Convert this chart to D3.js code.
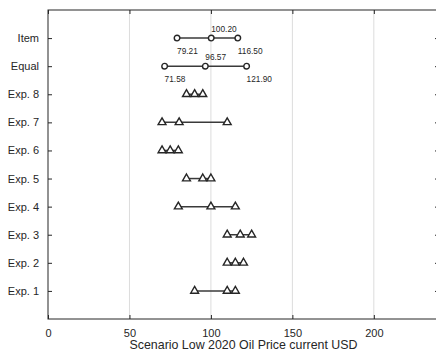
<!DOCTYPE html>
<html>
<head>
<meta charset="utf-8">
<script src="https://cdn.jsdelivr.net/npm/d3@7"></script>
<style>
  body { margin: 0; background: #fff; }
  svg { display: block; font-family: "Liberation Sans", Arial, sans-serif; }
</style>
</head>
<body>
<div id="chart"></div>
<script>
// rows from top to bottom
const rowLabels = ["Item", "Equal", "Exp. 8", "Exp. 7", "Exp. 6", "Exp. 5", "Exp. 4", "Exp. 3", "Exp. 2", "Exp. 1"];
const rowValues = [
    [79.21, 100.20, 116.50],
    [71.58, 96.57, 121.90],
    [85, 90, 95],
    [70, 80.5, 110],
    [70, 75, 80],
    [85, 95, 100],
    [80, 100, 115],
    [110, 118, 125],
    [110, 115, 120],
    [90, 110, 115]
];
const circleRows = ["Item", "Equal"];
const xTicks = [0, 50, 100, 150, 200];
const xTitle = "Scenario Low 2020 Oil Price current USD";

const width = 436, height = 356;
const margin = {top: 10, right: -3, bottom: 37, left: 48};

const svg = d3.select("#chart").append("svg")
    .attr("width", width)
    .attr("height", height);

const x = d3.scaleLinear()
    .domain([0, 240])
    .range([margin.left, width - margin.right]);

// one slot per row, plus a blank slot above and below
const y = d3.scaleLinear()
    .domain([0, rowLabels.length + 1])
    .range([height - margin.bottom, margin.top]);
const rowY = (i) => y(rowLabels.length - i);

// vertical grid
svg.append("g")
    .selectAll("line")
    .data(xTicks.filter(d => d > 0))
    .join("line")
    .attr("x1", d => x(d)).attr("x2", d => x(d))
    .attr("y1", y(0)).attr("y2", y(rowLabels.length + 1))
    .attr("stroke", "#dcdcdc")
    .attr("stroke-width", 1);

// frame
svg.append("rect")
    .attr("x", x(0))
    .attr("y", y(rowLabels.length + 1))
    .attr("width", x(240) - x(0))
    .attr("height", y(0) - y(rowLabels.length + 1))
    .attr("fill", "none")
    .attr("stroke", "#262626")
    .attr("stroke-width", 1);

// x axes (bottom + top, ticks inward)
const xb = svg.append("g")
    .attr("transform", `translate(0,${y(0)})`)
    .call(d3.axisBottom(x).tickValues(xTicks).tickSizeInner(-4).tickSizeOuter(0).tickPadding(10));
const xt = svg.append("g")
    .attr("transform", `translate(0,${y(rowLabels.length + 1)})`)
    .call(d3.axisTop(x).tickValues(xTicks).tickSizeInner(-4).tickSizeOuter(0).tickFormat(""));
[xb, xt].forEach(g => {
    g.select(".domain").remove();
    g.selectAll(".tick line").attr("stroke", "#262626");
});
xb.selectAll("text")
    .attr("font-size", 11)
    .attr("fill", "#262626")
    .attr("font-family", "Liberation Sans, Arial, sans-serif");

// y axes (left + right, ticks inward)
const yScaleBand = d3.scalePoint().domain(rowLabels).range([rowY(0), rowY(rowLabels.length - 1)]);
const yl = svg.append("g")
    .attr("transform", `translate(${x(0)},0)`)
    .call(d3.axisLeft(yScaleBand).tickSizeInner(-4).tickSizeOuter(0).tickPadding(9));
const yr = svg.append("g")
    .attr("transform", `translate(${x(240)},0)`)
    .call(d3.axisRight(yScaleBand).tickSizeInner(-4).tickSizeOuter(0).tickFormat(""));
[yl, yr].forEach(g => {
    g.select(".domain").remove();
    g.selectAll(".tick line").attr("stroke", "#262626");
});
yl.selectAll("text")
    .attr("font-size", 11)
    .attr("fill", "#262626")
    .attr("font-family", "Liberation Sans, Arial, sans-serif");

// range lines
const rows = svg.append("g")
    .selectAll("g")
    .data(rowLabels.map((name, i) => ({name, i, vals: rowValues[i]})))
    .join("g")
    .attr("transform", d => `translate(0,${rowY(d.i)})`);

rows.append("line")
    .attr("x1", d => x(d3.min(d.vals)))
    .attr("x2", d => x(d3.max(d.vals)))
    .attr("stroke", "#3a3a3a")
    .attr("stroke-width", 1.5);

// markers
const tri = d3.symbol().type(d3.symbolTriangle).size(27);
rows.each(function (d) {
    const g = d3.select(this);
    if (circleRows.includes(d.name)) {
        g.selectAll("circle")
            .data(d.vals)
            .join("circle")
            .attr("cx", v => x(v))
            .attr("cy", 0)
            .attr("r", 2.8)
            .attr("fill", "#fff")
            .attr("stroke", "#262626")
            .attr("stroke-width", 1.4);
        // labels: middle above, ends below
        g.selectAll("text")
            .data(d.vals)
            .join("text")
            .attr("x", v => x(v))
            .attr("y", (v, j) => j === 1 ? -6 : 16)
            .attr("font-size", 8.3)
            .attr("fill", "#262626")
            .text(v => v.toFixed(2));
    } else {
        g.selectAll("path")
            .data(d.vals)
            .join("path")
            .attr("d", tri)
            .attr("transform", v => `translate(${x(v)},0)`)
            .attr("fill", "#fff")
            .attr("stroke", "#262626")
            .attr("stroke-width", 1.4);
    }
});

// axis title
svg.append("text")
    .attr("x", (x(0) + x(240)) / 2)
    .attr("y", 349)
    .attr("text-anchor", "middle")
    .attr("font-size", 12.4)
    .attr("fill", "#262626")
    .text(xTitle);
</script>
</body>
</html>
